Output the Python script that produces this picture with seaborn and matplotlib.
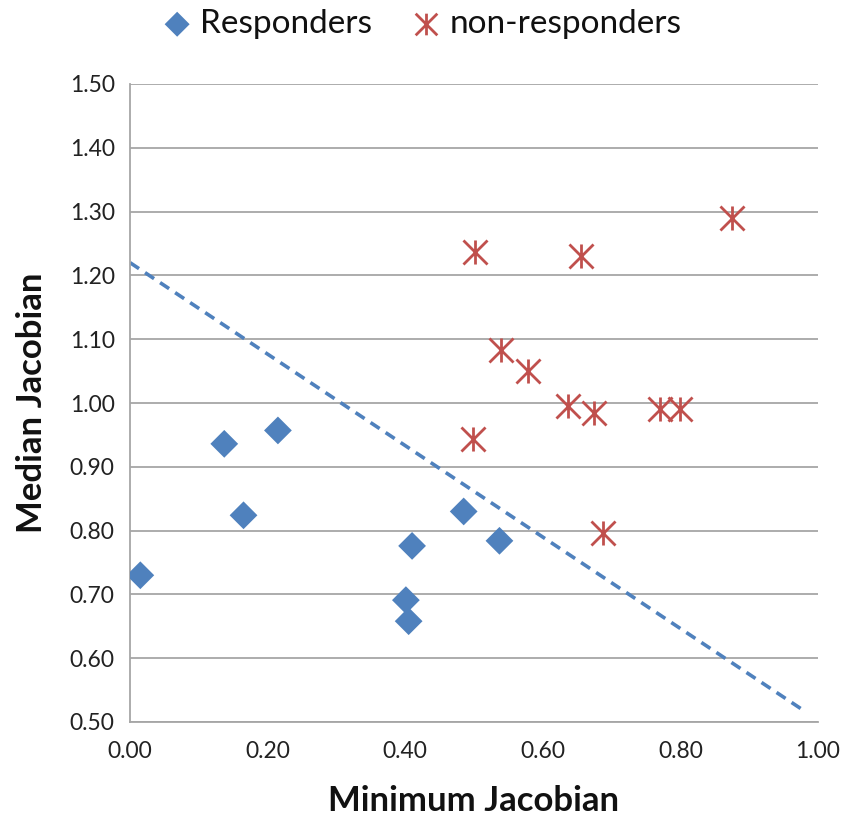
import numpy as np
import pandas as pd
import matplotlib
matplotlib.use("Agg")
import matplotlib.pyplot as plt
from matplotlib.path import Path
import seaborn as sns

# Data
resp_x = [0.015, 0.137, 0.165, 0.215, 0.401, 0.405, 0.410, 0.485, 0.537]
resp_y = [0.730, 0.936, 0.824, 0.957, 0.691, 0.658, 0.776, 0.830, 0.784]
nonresp_x = [0.502, 0.655, 0.875, 0.539, 0.578, 0.636, 0.675, 0.770, 0.799, 0.498, 0.687]
nonresp_y = [1.237, 1.231, 1.290, 1.083, 1.050, 0.996, 0.984, 0.990, 0.990, 0.944, 0.796]
line_x = [0.0, 0.982]
line_y = [1.220, 0.516]
x_ticks = [0.0, 0.2, 0.4, 0.6, 0.8, 1.0]
y_ticks = [0.5, 0.6, 0.7, 0.8, 0.9, 1.0, 1.1, 1.2, 1.3, 1.4, 1.5]
series_names = ["Responders", "non-responders"]

BLUE = "#4F81BD"
RED = "#C0504D"
GRID = "#A6A6A6"

sns.set_theme(style="white")
plt.rcParams['font.family'] = ['Lato', 'DejaVu Sans']

fig = plt.figure(figsize=(8.45, 8.27), dpi=100)
ax = fig.add_axes([130/845, 1 - 722/827, (818-130)/845, (722-84)/827])

star = Path([(0, 1), (0, -1), (-1, 1), (1, -1), (-1, -1), (1, 1)],
            [Path.MOVETO, Path.LINETO, Path.MOVETO, Path.LINETO, Path.MOVETO, Path.LINETO])

ax.plot(line_x, line_y, color=BLUE, lw=2.6, ls=(0, (3, 2)), zorder=2)

sns.scatterplot(x=resp_x, y=resp_y, marker="D", color=BLUE, s=200,
                edgecolor="none", ax=ax, zorder=3, label=series_names[0])
sns.scatterplot(x=nonresp_x, y=nonresp_y, marker=star, color=RED, edgecolor=RED,
                s=300, linewidth=2.0, ax=ax, zorder=3, label=series_names[1])

ax.set_xlim(0, 1.0)
ax.set_ylim(0.5, 1.5)
ax.set_xticks(x_ticks)
ax.set_yticks(y_ticks)
ax.set_xticklabels([f"{v:.2f}" for v in x_ticks])
ax.set_yticklabels([f"{v:.2f}" for v in y_ticks])
ax.yaxis.grid(True, color=GRID, lw=1.3)
ax.set_axisbelow(True)
for s in ["top", "right"]:
    ax.spines[s].set_visible(False)
for s in ["left", "bottom"]:
    ax.spines[s].set_color(GRID)
    ax.spines[s].set_linewidth(1.3)
ax.tick_params(axis="both", which="major", length=6, width=1.3, color=GRID,
               direction="out", labelsize=16.5, labelcolor="#222222", pad=5)
ax.tick_params(axis="x", pad=8)
ax.set_xlabel("Minimum Jacobian", fontsize=25, fontweight="bold", labelpad=16, color="#111111")
ax.set_ylabel("Median Jacobian", fontsize=25, fontweight="bold", labelpad=16, color="#111111")

handles, labels = ax.get_legend_handles_labels()
ax.get_legend().remove()
leg = fig.legend(handles, labels, loc="center", bbox_to_anchor=(0.498, 0.971), ncol=2,
                 frameon=False, fontsize=24, handletextpad=0.2, columnspacing=1.1,
                 handlelength=1.0, markerscale=0.9)
for t in leg.get_texts():
    t.set_color("#111111")

fig.savefig("out.png", dpi=100)
